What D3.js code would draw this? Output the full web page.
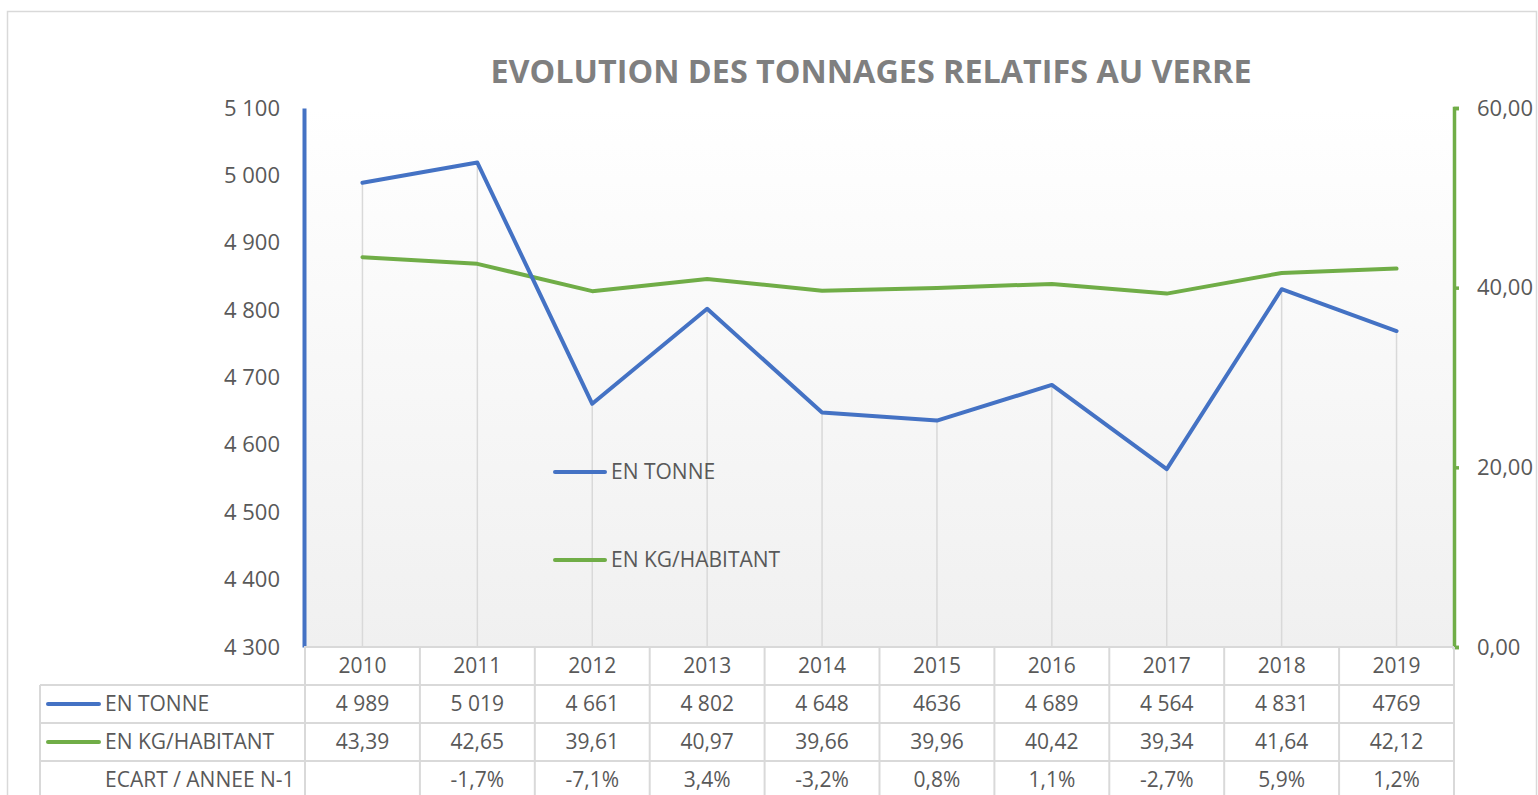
<!DOCTYPE html>
<html>
<head>
<meta charset="utf-8">
<script src="https://cdn.jsdelivr.net/npm/d3@7"></script>
<style>
  body { margin: 0; background: #fff; }
  svg { display: block; font-family: "Open Sans", sans-serif; }
</style>
</head>
<body>
<svg id="chart" width="1538" height="795"></svg>
<script>
// data
let years = ['2010','2011','2012','2013','2014','2015','2016','2017','2018','2019'];
let tonnes = [4989, 5019, 4661, 4802, 4648, 4636, 4689, 4564, 4831, 4769];
let tonneLabels = ['4 989','5 019','4 661','4 802','4 648','4636','4 689','4 564','4 831','4769'];
let kgHab = [43.39, 42.65, 39.61, 40.97, 39.66, 39.96, 40.42, 39.34, 41.64, 42.12];
let ecart = ['', '-1,7%', '-7,1%', '3,4%', '-3,2%', '0,8%', '1,1%', '-2,7%', '5,9%', '1,2%'];
let leftTicks = [4300, 4400, 4500, 4600, 4700, 4800, 4900, 5000, 5100];
let rightTicks = [0, 20, 40, 60];

let blue = '#4472C4', green = '#70AD47', grid = '#d9d9d9', txt = '#595959';
let svg = d3.select('#chart');

let plot = {left: 305, right: 1454, top: 108, bottom: 647};

let x = d3.scaleBand().domain(years).range([plot.left, plot.right]);
let xc = d => x(d) + x.bandwidth() / 2;
let yL = d3.scaleLinear().domain([4300, 5100]).range([plot.bottom, plot.top]);
let yR = d3.scaleLinear().domain([0, 60]).range([plot.bottom, plot.top]);

// frame
svg.append('path')
    .attr('d', 'M7.5,800 V11.5 H1536.5 V800')
    .attr('fill', 'none').attr('stroke', grid).attr('stroke-width', 1.5);

// plot background gradient
let defs = svg.append('defs');
let grad = defs.append('linearGradient').attr('id', 'bg')
    .attr('x1', 0).attr('y1', 0).attr('x2', 0).attr('y2', 1);
grad.append('stop').attr('offset', '0%').attr('stop-color', '#ffffff');
grad.append('stop').attr('offset', '100%').attr('stop-color', '#f0f0f0');
svg.append('rect')
    .attr('x', plot.left).attr('y', plot.top)
    .attr('width', plot.right - plot.left).attr('height', plot.bottom - plot.top)
    .attr('fill', 'url(#bg)');

// title
svg.append('text')
    .attr('x', 871).attr('y', 83)
    .attr('text-anchor', 'middle')
    .attr('font-size', 33).attr('font-weight', 'bold')
    .attr('fill', '#7f7f7f')
    .attr('textLength', 761).attr('lengthAdjust', 'spacingAndGlyphs')
    .text('EVOLUTION DES TONNAGES RELATIFS AU VERRE');

// drop lines from the tonnage points
svg.append('g').selectAll('line')
    .data(years)
    .join('line')
    .attr('x1', d => xc(d)).attr('x2', d => xc(d))
    .attr('y1', (d, i) => yL(tonnes[i])).attr('y2', plot.bottom)
    .attr('stroke', grid).attr('stroke-width', 1.5);

// left axis
let gL = svg.append('g').attr('transform', `translate(${plot.left - 1},0)`)
    .call(d3.axisLeft(yL).tickValues(leftTicks).tickSize(0).tickPadding(24)
        .tickFormat(d => d3.format(',')(d).replace(',', ' ')));
gL.select('.domain').attr('stroke', blue).attr('stroke-width', 4);
gL.selectAll('text').attr('font-size', 22).attr('fill', txt)
    .attr('font-family', '"Open Sans", sans-serif');

// right axis
let gR = svg.append('g').attr('transform', `translate(${plot.right},0)`)
    .call(d3.axisRight(yR).tickValues(rightTicks).tickSize(5).tickSizeOuter(5).tickPadding(18)
        .tickFormat(d => d3.format('.2f')(d).replace('.', ',')));
gR.select('.domain').attr('stroke', green).attr('stroke-width', 3.5);
gR.selectAll('.tick line').attr('stroke', green).attr('stroke-width', 3.5);
gR.selectAll('text').attr('font-size', 22).attr('fill', txt)
    .attr('font-family', '"Open Sans", sans-serif');

// series lines
let lineL = d3.line().x((d, i) => xc(years[i])).y(d => yL(d));
let lineR = d3.line().x((d, i) => xc(years[i])).y(d => yR(d));
svg.append('path').datum(kgHab).attr('d', lineR)
    .attr('fill', 'none').attr('stroke', green).attr('stroke-width', 4)
    .attr('stroke-linecap', 'round').attr('stroke-linejoin', 'round');
svg.append('path').datum(tonnes).attr('d', lineL)
    .attr('fill', 'none').attr('stroke', blue).attr('stroke-width', 4)
    .attr('stroke-linecap', 'round').attr('stroke-linejoin', 'round');

// legend inside plot
let legend = [{name: 'EN TONNE', color: blue, y: 472}, {name: 'EN KG/HABITANT', color: green, y: 560}];
let lg = svg.append('g').selectAll('g').data(legend).join('g');
lg.append('line').attr('x1', 555).attr('x2', 605)
    .attr('y1', d => d.y).attr('y2', d => d.y)
    .attr('stroke', d => d.color).attr('stroke-width', 4).attr('stroke-linecap', 'round');
lg.append('text').attr('x', 611).attr('y', d => d.y + 7)
    .attr('font-size', 21).attr('fill', txt).text(d => d.name);

// data table
let rowTop = [647, 685, 723, 761];
let rowH = 38;
let tbl = svg.append('g');
let lineAttrs = s => s.attr('stroke', grid).attr('stroke-width', 2).attr('fill', 'none');

// horizontal lines
tbl.append('line').attr('x1', plot.left - 1).attr('x2', plot.right).attr('y1', rowTop[0]).attr('y2', rowTop[0]).call(lineAttrs);
[rowTop[1], rowTop[2], rowTop[3]].forEach(yy => {
    tbl.append('line').attr('x1', 40).attr('x2', plot.right).attr('y1', yy).attr('y2', yy).call(lineAttrs);
});
// vertical lines
let colEdges = years.map(d => x(d)).concat([plot.right]);
colEdges.forEach(cx => {
    tbl.append('line').attr('x1', cx).attr('x2', cx).attr('y1', rowTop[0]).attr('y2', 800).call(lineAttrs);
});
tbl.append('line').attr('x1', 40).attr('x2', 40).attr('y1', rowTop[1]).attr('y2', 800).call(lineAttrs);

// header years
tbl.selectAll('.yr').data(years).join('text').attr('class', 'yr')
    .attr('x', d => xc(d)).attr('y', rowTop[0] + rowH / 2 + 7)
    .attr('text-anchor', 'middle').attr('font-size', 21).attr('fill', txt).text(d => d);

let rows = [
    {name: 'EN TONNE', color: blue, vals: tonneLabels},
    {name: 'EN KG/HABITANT', color: green, vals: kgHab.map(v => d3.format('.2f')(v).replace('.', ','))},
    {name: 'ECART / ANNEE N-1', color: null, vals: ecart}
];
rows.forEach((r, k) => {
    let cy = rowTop[k + 1] + rowH / 2;
    if (r.color) {
        tbl.append('line').attr('x1', 48).attr('x2', 99).attr('y1', cy).attr('y2', cy)
            .attr('stroke', r.color).attr('stroke-width', 4).attr('stroke-linecap', 'round');
    }
    tbl.append('text').attr('x', 105).attr('y', cy + 7)
        .attr('font-size', 21).attr('fill', txt).text(r.name);
    tbl.selectAll('.v' + k).data(r.vals).join('text').attr('class', 'v' + k)
        .attr('x', (d, i) => xc(years[i])).attr('y', cy + 7)
        .attr('text-anchor', 'middle').attr('font-size', 21).attr('fill', txt).text(d => d);
});
</script>
</body>
</html>
